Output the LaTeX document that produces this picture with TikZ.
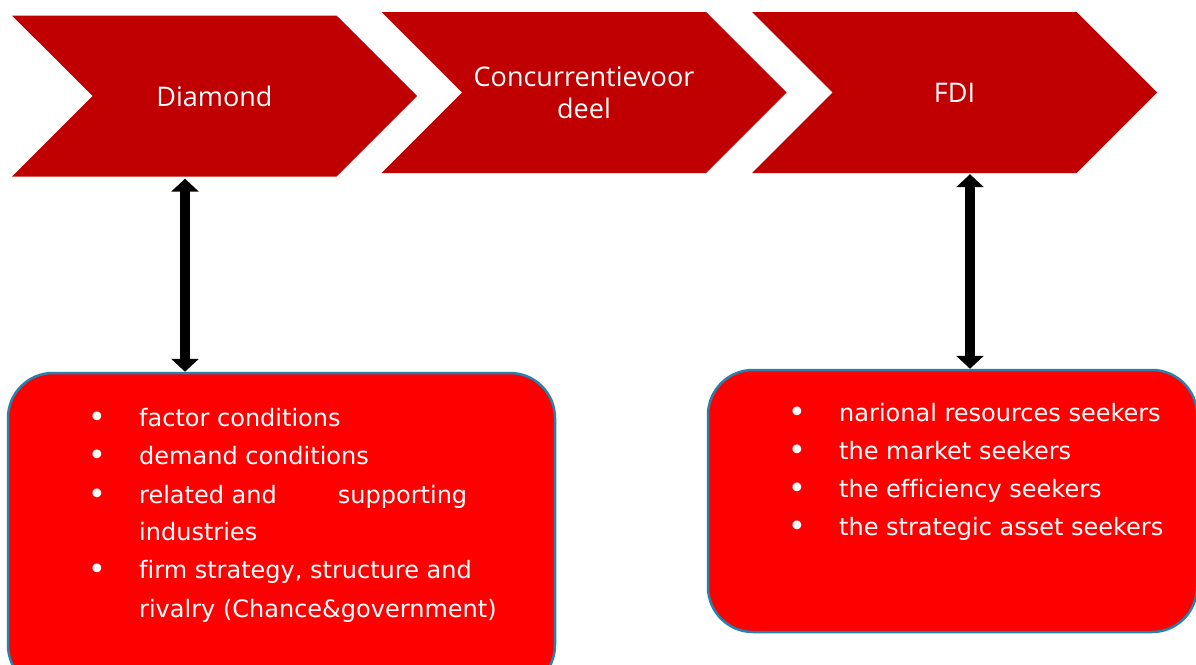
\documentclass[tikz,border=0pt]{standalone}
\usepackage{fontspec}
\newfontfamily\chevfont{Open Sans}
\newfontfamily\listfont[Ligatures={NoCommon}]{DejaVu Sans}
\usepackage{tikz}
\usetikzlibrary{shapes.symbols}
\usetikzlibrary{arrows.meta}
\definecolor{chevred}{RGB}{192,0,0}
\definecolor{boxred}{RGB}{255,0,0}
\definecolor{boxline}{RGB}{41,128,170}

\begin{document}
\begin{tikzpicture}[
    x=1pt, y=-1pt, % pixel-like units, y grows downwards
    chevron/.style={
        signal, signal from=west, signal to=east, % notch left, point right
        signal pointer angle=90,
        fill=chevred, text=white,
        minimum width=405pt, minimum height=161pt, inner sep=0pt,
        align=center,
        font=\chevfont\fontsize{27}{32}\selectfont
    },
    listbox/.style={
        draw=boxline, line width=2.5pt, fill=boxred,
        rounded corners=45pt, inner sep=0pt
    },
    listitem/.style={anchor=base west, text=white, inner sep=0pt,
        font=\listfont\fontsize{24}{28}\selectfont},
    bulletdot/.style={anchor=base, text=white, inner sep=0pt,
        font=\listfont\fontsize{30}{30}\selectfont},
    dbl/.style={line width=10pt,
        {Triangle[width=27pt,length=13pt]}-{Triangle[width=27pt,length=13pt]}}
]
\useasboundingbox (0,0) rectangle (1196,664);
\clip (0,0) rectangle (1196,664);

% the three steps
\node[chevron] (diamond) at (214.5,96) {Diamond};
\node[chevron] (advantage) at (584,92.5) {Concurrentievoor\\deel};
\node[chevron] (fdi) at (954.5,92.5) {FDI};

% the two boxes
\node[listbox, minimum width=547pt, minimum height=317pt] (lbox) at (281.5,531.5) {};
\node[listbox, minimum width=489pt, minimum height=262pt] (rbox) at (952.5,501) {};

% arrows
\coordinate (arrL) at (185,0);
\coordinate (arrR) at (970,0);
\draw[dbl] (diamond.south -| arrL) ++(0,2) -- (lbox.north -| arrL);
\draw[dbl] (fdi.south -| arrR) ++(0,1) -- (rbox.north -| arrR);

% left list
\foreach \y in {427,465,504,579} \node[bulletdot] at (97,\y) {•};
\node[listitem] (l1) at (139,426) {factor conditions};
\node[listitem] (l2) at (139,464) {demand conditions};
\node[listitem] (l3) at (139,503) {\makebox[328pt][l]{related and\hfill supporting}};
\node[listitem] (l4) at (139,540) {industries};
\node[listitem] (l5) at (139,578) {firm strategy, structure and};
\node[listitem] (l6) at (139,617) {rivalry (Chance\&government)};

% right list
\foreach \y in {422,460,498,536} \node[bulletdot] at (797,\y) {•};
\node[listitem] (r1) at (839,421) {narional resources seekers};
\node[listitem] (r2) at (839,459) {the market seekers};
\node[listitem] (r3) at (839,497) {the efficiency seekers};
\node[listitem] (r4) at (839,535) {the strategic asset seekers};
\end{tikzpicture}
\end{document}
